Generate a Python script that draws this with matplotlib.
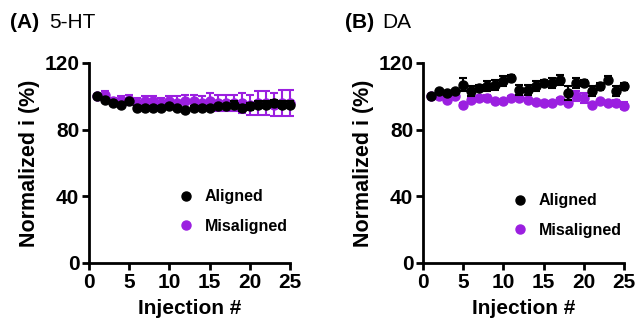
import matplotlib
matplotlib.use("Agg")
import matplotlib.pyplot as plt
from matplotlib.lines import Line2D

plt.rcParams['font.family'] = ['Liberation Sans', 'DejaVu Sans']

injection = list(range(1, 26))

ht_aligned = [100, 98, 96, 95, 97, 93, 93, 93, 93, 94, 93, 92, 93, 93, 93, 94, 94, 95, 93, 94, 95, 95, 96, 95, 95]
ht_aligned_err = [0, 1, 1, 1, 1, 1, 1, 1, 1, 1, 1, 1, 1, 1, 1, 1, 1, 2, 2, 2, 2, 2, 2, 2, 2]
ht_mis = [100, 101, 97, 98, 98, 96, 97, 97, 96, 97, 96, 97, 97, 96, 97, 96, 96, 96, 96, 95, 96, 96, 95, 96, 96]
ht_mis_err = [0, 2, 2, 2, 3, 3, 3, 3, 3, 3, 4, 4, 4, 4, 5, 5, 5, 5, 6, 6, 7, 7, 7, 8, 8]

da_aligned = [100, 103, 102, 103, 107, 103, 105, 106, 107, 109, 111, 104, 104, 106, 108, 108, 110, 102, 108, 108, 103, 106, 110, 103, 106]
da_aligned_err = [0, 1, 1, 1, 4, 3, 2, 3, 3, 3, 2, 3, 3, 3, 2, 3, 3, 4, 3, 2, 3, 2, 2, 3, 2]
da_mis = [100, 100, 98, 100, 95, 98, 99, 99, 97, 97, 99, 99, 98, 96.5, 96, 96, 98, 96, 100, 99, 95, 97, 96, 96, 94.5]
da_mis_err = [0, 1, 1, 1, 1, 1, 1, 2, 1, 1, 1, 1, 1, 1, 1, 1, 1, 1, 3, 3, 1, 1, 1, 2, 2]

xticks = [0, 5, 10, 15, 20, 25]
yticks = [0, 40, 80, 120]
purple = '#9B1FE0'

W, H = 640, 331
fig = plt.figure(figsize=(6.4, 3.31), dpi=100)

def make_ax(left_px, right_px, top_px, bottom_px):
    return fig.add_axes([left_px / W, 1 - bottom_px / H, (right_px - left_px) / W, (bottom_px - top_px) / H])

def style(ax):
    ax.set_xlim(0, 25)
    ax.set_ylim(0, 120)
    ax.set_xticks(xticks)
    ax.set_yticks(yticks)
    for s in ['top', 'right']:
        ax.spines[s].set_visible(False)
    for s in ['left', 'bottom']:
        ax.spines[s].set_linewidth(2)
    ax.tick_params(width=2, length=5, labelsize=15, pad=2)
    for lab in ax.get_xticklabels() + ax.get_yticklabels():
        lab.set_fontweight('bold')
    ax.set_xlabel('Injection #', fontsize=15, fontweight='bold', labelpad=5)
    ax.set_ylabel('Normalized i (%)', fontsize=15.5, fontweight='bold', labelpad=3)
    for sp in ax.spines.values():
        sp.set_clip_on(False)

def plot_series(ax, y, e, color, z):
    ax.errorbar(injection, y, yerr=e, fmt='o', color=color, ms=6.5, capsize=3,
                elinewidth=1.5, capthick=1.5, zorder=z, clip_on=False)

ax1 = make_ax(89, 290, 63, 263)
plot_series(ax1, ht_mis, ht_mis_err, purple, 3)
plot_series(ax1, ht_aligned, ht_aligned_err, 'black', 4)
style(ax1)

ax2 = make_ax(423, 624, 63, 263)
plot_series(ax2, da_mis, da_mis_err, purple, 3)
plot_series(ax2, da_aligned, da_aligned_err, 'black', 4)
style(ax2)

handles = [Line2D([], [], marker='o', ls='', color='black', ms=6.5),
           Line2D([], [], marker='o', ls='', color=purple, ms=6.5)]
for ax, anchor in [(ax1, (0.37, 0.44)), (ax2, (0.37, 0.42))]:
    leg = ax.legend(handles, ['Aligned', 'Misaligned'], loc='upper left', bbox_to_anchor=anchor,
                    frameon=False, prop={'weight': 'bold', 'size': 11.5}, handletextpad=0.7,
                    labelspacing=0.9, handlelength=1.0)

fig.text(10 / W, 1 - 22 / H, '(A)', fontsize=15, fontweight='bold', va='center', ha='left')
fig.text(49 / W, 1 - 22 / H, '5-HT', fontsize=15, va='center', ha='left')
fig.text(345 / W, 1 - 22 / H, '(B)', fontsize=15, fontweight='bold', va='center', ha='left')
fig.text(382 / W, 1 - 22 / H, 'DA', fontsize=15, va='center', ha='left')

fig.savefig('out.png', dpi=100)
